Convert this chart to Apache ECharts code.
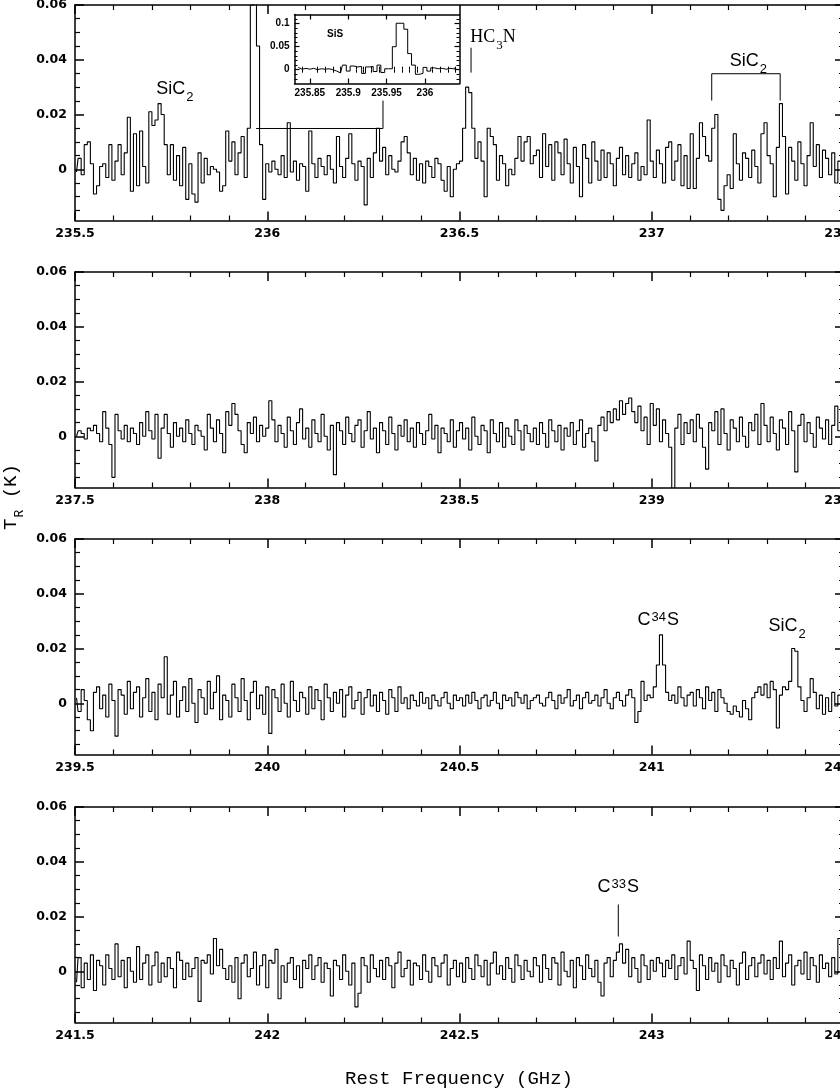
<!DOCTYPE html>
<html><head><meta charset="utf-8">
<script src="https://cdn.jsdelivr.net/npm/echarts@6/dist/echarts.min.js"></script>
<style>html,body{margin:0;padding:0;background:#fff;overflow:hidden}#c{width:840px;height:1091px}</style>
</head><body><div id="c"></div>
<script>
// ---------------- DATA ----------------
const panelStarts = [235.5, 237.5, 239.5, 241.5];   // GHz, left edge of each panel
const panelSpan = 2;                                // GHz per panel
const channelWidth = 0.008;                         // GHz per channel (250 channels per panel)
// antenna temperature T_R per channel, in mK
const panel1_mK = [
 -1,4,-2,9,10,2,-9,-6,1,2,-3,9,-4,3,9,-2,6,19,-8,13,-6,14,1,-5,21,
 16,18,24,20,9,-2,9,-4,5,-6,8,-11,2,-9,-12,6,-5,4,-2,1,0,-1,-8,-6,14,
 3,10,-2,6,12,-3,15,60,100,45,9,-11,2,-1,3,0,-2,5,-3,17,-1,3,-4,2,1,
 -8,14,2,-3,4,1,-2,5,0,-5,12,1,-3,4,13,2,-4,3,1,-13,4,-3,6,15,3,
 8,-2,5,0,-1,3,10,12,6,-2,4,-4,2,-5,3,1,-3,4,2,-4,-8,1,-10,0,2,
 3,15,30,28,15,4,10,3,-10,15,12,9,-4,5,2,-6,0,-2,4,12,3,10,12,2,5,
 7,-3,13,1,9,-4,10,6,-2,11,2,-5,8,1,-10,9,4,-5,10,3,-4,7,-3,6,2,
 -6,4,8,-2,5,-3,2,6,-4,1,-2,18,3,-3,7,2,-5,8,10,-4,3,9,-6,5,-7,
 13,-7,4,17,12,5,3,15,20,-11,-15,-6,-2,-7,13,2,-4,6,4,-3,7,1,-5,13,17,
 5,2,-10,8,24,12,-9,8,3,-4,10,2,-6,5,17,1,9,-3,7,4,-2,6,-5,3,-10
];
const panel2_mK = [
 0,2,1,-1,3,2,4,1,-2,9,3,-3,-15,8,2,-1,4,-2,3,1,-3,5,0,9,2,
 -1,8,-8,3,8,1,-4,5,0,3,-2,6,1,-3,4,2,0,-5,8,3,-2,6,1,-6,9,
 4,12,8,2,-3,-6,5,1,7,-2,4,0,3,13,6,-2,4,1,-4,7,2,-3,5,10,-1,
 3,-4,6,1,-2,8,0,-5,4,-14,5,2,-3,7,1,-2,4,6,-4,2,9,-1,3,-6,5,
 2,-3,7,1,-5,4,0,6,-2,3,-4,5,1,-3,2,8,-1,4,-6,3,1,-2,6,-4,2,
 5,-1,3,-5,7,0,-3,4,2,-6,6,1,-2,5,-4,3,0,-3,6,2,-5,4,1,-2,3,
 -3,5,1,-4,6,2,-2,4,-5,3,0,5,-3,2,6,-4,1,3,-2,-9,4,7,2,9,5,
 10,6,13,8,12,14,9,5,11,2,7,-3,12,4,10,-2,6,1,-4,-22,3,8,-3,5,1,
 6,-2,8,3,-4,-12,5,2,9,-3,10,1,-5,6,3,-2,7,0,-4,5,2,8,-3,12,4,
 -2,7,1,-5,6,3,-3,9,2,-13,4,8,-2,5,1,-4,7,3,-1,6,-3,4,11,2,-2
];
const panel3_mK = [
 2,-3,5,1,-6,-10,4,6,-2,3,-5,7,1,-12,5,3,-4,8,-2,4,6,-5,2,9,-3,
 4,-6,7,2,17,-4,3,8,-5,1,6,-3,9,0,-7,5,2,-4,8,-2,4,10,-6,3,1,
 -5,7,2,-3,9,1,-6,4,8,-2,3,-4,6,-11,5,2,-3,7,0,-5,8,1,-3,4,2,
 -4,6,-2,5,1,-6,7,2,-3,4,0,5,-5,3,6,-2,1,4,-4,2,5,-1,3,-3,4,
 1,-4,5,2,-3,6,0,2,-2,3,1,-1,4,0,2,-2,3,1,-1,2,4,0,-2,3,1,
 2,-1,3,0,4,1,-2,2,3,-1,1,4,0,-2,3,1,2,-1,4,2,0,3,-2,1,2,
 3,0,-1,2,4,1,-2,3,0,2,5,-1,1,3,-2,2,4,0,1,3,-1,2,5,0,-2,
 2,4,1,-1,3,5,2,-7,-3,8,1,3,2,6,14,25,14,4,1,3,0,6,2,-1,3,
 4,-1,5,2,-2,6,1,4,-3,5,2,0,-3,-4,-1,-3,-5,1,-2,-6,2,4,6,3,7,
 2,8,5,-9,3,6,5,8,20,19,6,1,-3,2,9,4,-2,3,-4,2,-3,4,-1,3,0
];
const panel4_mK = [
 -4,5,-6,3,-3,6,-7,4,2,-5,6,1,-3,10,-2,4,-6,5,0,-4,9,-3,3,6,-5,
 2,7,-4,3,-2,5,1,-6,7,4,-3,3,-2,1,5,-11,4,3,6,-1,12,2,8,1,-3,
 2,-4,5,-10,3,6,-2,1,7,-5,2,6,-6,4,3,8,-10,2,-4,3,5,-3,2,-6,4,
 1,6,-3,2,5,-4,3,1,-9,4,2,-3,6,0,-5,3,-13,-8,5,2,-4,6,1,-2,4,
 -3,5,2,-6,3,7,-2,1,4,-5,3,2,-3,6,0,-4,5,2,-2,3,6,-5,1,4,-2,
 3,-4,5,1,-3,6,2,-2,4,-5,3,7,-1,2,-3,5,1,-4,6,2,-3,4,0,-2,5,
 2,-4,6,1,-3,5,3,-5,7,0,-2,4,-6,5,2,-3,6,1,-2,4,-4,-9,3,5,-2,
 4,7,10,3,8,-2,5,1,-4,6,2,-3,4,0,5,3,-2,4,1,6,-3,2,5,-1,11,
 4,1,-7,6,2,-3,5,0,3,-4,6,2,-2,4,1,-5,3,7,-3,2,5,-2,3,6,-1,
 4,-3,5,1,11,-2,3,6,-5,2,4,-1,7,-3,5,2,-4,6,1,3,-2,5,-1,12,4
];
// inset: SiS line, finer channels
const insetStart = 235.8325, insetChannel = 0.005, insetMin = 235.83, insetMax = 236.045;
const inset_mK = [
 5,1,3,1,3,0,2,1,2,0,-3,-7,10,-3,8,6,7,-8,6,7,
 -4,10,-6,2,2,50,101,101,88,35,10,-10,-8,5,-3,4,2,3,1,3,2,5
];
// tick values
const yTickLabels = [0, 0.02, 0.04, 0.06];
const yMinorTicks = [-0.015,-0.01,-0.005,0.005,0.01,0.015,0.025,0.03,0.035,0.045,0.05,0.055];
const insetXTicks = [235.85, 235.9, 235.95, 236];
const insetXMinor = [235.84,235.86,235.87,235.88,235.89,235.91,235.92,235.93,235.94,235.96,235.97,235.98,235.99,236.01,236.02,236.03,236.04];
const insetYTicks = [0, 0.05, 0.1];
const insetYMinor = [-0.02,-0.01,0.01,0.02,0.03,0.04,0.06,0.07,0.08,0.09,0.11];
// line identifications (GHz, mK)
const lineLabels = [
 {panel:0, f:235.76,  mK:28.7, text:'{m|SiC}{sub|2}', font:'sans'},
 {panel:0, f:236.587, mK:47.5, text:'{m|HC}{sub|3}{m|N}', font:'serif'},
 {panel:0, f:237.251, mK:38.7, text:'{m|SiC}{sub|2}', font:'sans'},
 {panel:2, f:241.017, mK:29.8, text:'{m|C}{sup|34}{m|S}', font:'sans'},
 {panel:2, f:241.352, mK:27.6, text:'{m|SiC}{sub|2}', font:'sans'},
 {panel:3, f:242.913, mK:30.2, text:'{m|C}{sup|33}{m|S}', font:'sans'}
];
const markerLines = [
 {panel:0, pts:[[236.530,35.3],[236.530,44.4]]},
 {panel:0, pts:[[237.156,25.1],[237.156,34.9],[237.334,34.9],[237.334,25.1]]},
 {panel:0, pts:[[235.971,14.9],[236.301,14.9],[236.301,25.1]]},
 {panel:3, pts:[[242.913,12.7],[242.913,24.4]]}
];

// ---------------- LAYOUT ----------------
const spectra = [panel1_mK, panel2_mK, panel3_mK, panel4_mK];
const YMIN = -0.0187, YMAX = 0.06;
const GRID_LEFT = 75, GRID_W = 769, GRID_H = 215.5;
const gridTops = [5, 272, 539, 807];
const INK = '#000';
const tickFont = {fontFamily:'DejaVu Sans', fontWeight:'bold', fontSize:12.5, color:INK};
const insetFont = {fontFamily:'Liberation Sans', fontWeight:'bold', fontSize:10, color:INK};
const fmt = v => String(Math.round(v * 1000) / 1000);

const chart = echarts.init(document.getElementById('c'), null, {renderer:'canvas'});
const grid = [], xAxis = [], yAxis = [], series = [];
const mainSeries = [];

gridTops.forEach((top, k) => {
  grid.push({left:GRID_LEFT, top:top, width:GRID_W, height:GRID_H, show:false, outerBoundsMode:'none', containLabel:false});
  const xmin = panelStarts[k], xmax = panelStarts[k] + panelSpan;
  const xi = xAxis.length;
  ['bottom','top'].forEach(pos => xAxis.push({
    gridIndex:k, type:'value', position:pos, min:xmin, max:xmax, interval:0.5,
    axisLine:{show:true, onZero:false, lineStyle:{color:INK, width:1.5}},
    axisTick:{show:true, inside:true, length:9, lineStyle:{color:INK, width:1.5}},
    minorTick:{show:true, splitNumber:5, length:5, lineStyle:{color:INK, width:1.2}},
    axisLabel:Object.assign({show:pos==='bottom', margin:7, formatter:fmt, showMinLabel:true, showMaxLabel:true, hideOverlap:false}, tickFont),
    splitLine:{show:false}, minorSplitLine:{show:false}
  }));
  const yi = yAxis.length;
  ['left','right'].forEach(pos => {
    yAxis.push({gridIndex:k, type:'value', position:pos, min:YMIN, max:YMAX,
      axisLine:{show:true, onZero:false, lineStyle:{color:INK, width:1.5}},
      axisTick:{show:true, inside:true, length:9, customValues:yTickLabels, lineStyle:{color:INK, width:1.5}},
      axisLabel:Object.assign({show:pos==='left', customValues:yTickLabels, margin:8, formatter:fmt}, tickFont),
      splitLine:{show:false}});
    yAxis.push({gridIndex:k, type:'value', position:pos, min:YMIN, max:YMAX,
      axisLine:{show:false},
      axisTick:{show:true, inside:true, length:5, customValues:yMinorTicks, lineStyle:{color:INK, width:1.2}},
      axisLabel:{show:false}, splitLine:{show:false}});
  });
  mainSeries.push(series.length);
  series.push({
    type:'line', name:'panel' + (k + 1), xAxisIndex:xi, yAxisIndex:yi,
    data: spectra[k].map((v, i) => [panelStarts[k] + channelWidth * (i + 0.5), v / 1000]),
    step:'middle', symbol:'none', showSymbol:false, clip:true, silent:true,
    lineStyle:{color:'#000', width:1.1}, z:3
  });
  markerLines.filter(m => m.panel === k).forEach(m => series.push({
    type:'line', xAxisIndex:xi, yAxisIndex:yi, data:m.pts.map(p => [p[0], p[1] / 1000]),
    symbol:'none', showSymbol:false, clip:false, silent:true, lineStyle:{color:INK, width:1}, z:3
  }));
});

// inset
const gi = grid.length;
grid.push({left:294.5, top:14.5, width:165, height:69, show:true, backgroundColor:'#fff', borderWidth:0, z:5, outerBoundsMode:'none', containLabel:false});
const ixi = xAxis.length;
['bottom','top'].forEach(pos => {
  xAxis.push({gridIndex:gi, type:'value', position:pos, min:insetMin, max:insetMax,
    axisLine:{show:true, onZero:false, lineStyle:{color:INK, width:1.5}},
    axisTick:{show:true, inside:true, length:5, customValues:insetXTicks, lineStyle:{color:INK, width:1.2}},
    axisLabel:Object.assign({show:pos==='bottom', customValues:insetXTicks, margin:5, formatter:fmt}, insetFont),
    splitLine:{show:false}, z:5});
  xAxis.push({gridIndex:gi, type:'value', position:pos, min:insetMin, max:insetMax,
    axisLine:{show:false}, axisTick:{show:true, inside:true, length:3, customValues:insetXMinor, lineStyle:{color:INK, width:1}},
    axisLabel:{show:false}, splitLine:{show:false}, z:5});
});
const iyi = yAxis.length;
['left','right'].forEach(pos => {
  yAxis.push({gridIndex:gi, type:'value', position:pos, min:-0.03, max:0.12,
    axisLine:{show:true, onZero:false, lineStyle:{color:INK, width:1.5}},
    axisTick:{show:true, inside:true, length:5, customValues:insetYTicks, lineStyle:{color:INK, width:1.2}},
    axisLabel:Object.assign({show:pos==='left', customValues:insetYTicks, margin:5, formatter:fmt}, insetFont),
    splitLine:{show:false}, z:5});
  yAxis.push({gridIndex:gi, type:'value', position:pos, min:-0.03, max:0.12,
    axisLine:{show:false}, axisTick:{show:true, inside:true, length:3, customValues:insetYMinor, lineStyle:{color:INK, width:1}},
    axisLabel:{show:false}, splitLine:{show:false}, z:5});
});
const insetSeries = series.length;
series.push({type:'line', name:'SiS inset', xAxisIndex:ixi, yAxisIndex:iyi,
  data: inset_mK.map((v, j) => [insetStart + insetChannel * (j + 0.5), v / 1000]),
  step:'middle', symbol:'none', showSymbol:false, clip:true, silent:true,
  lineStyle:{color:'#000', width:1}, z:6});

chart.setOption({animation:false, backgroundColor:'#fff', grid, xAxis, yAxis, series});

// ---------------- TEXT ----------------
function richSet(family, size, subSize) {
  return {
    m:{fontFamily:family, fontSize:size, lineHeight:size + 4, verticalAlign:'top', fill:INK},
    sub:{fontFamily:family, fontSize:subSize, lineHeight:subSize, padding:[Math.round(size*0.62),0,0,1], verticalAlign:'top', fill:INK},
    sup:{fontFamily:family, fontSize:subSize, lineHeight:subSize, padding:[0,1,0,1], verticalAlign:'top', fill:INK}
  };
}
const sansRich = richSet('Liberation Sans', 18, 13);
const serifRich = richSet('Liberation Serif', 18, 13);
const monoRich = richSet('Liberation Mono', 19, 13);

const graphic = lineLabels.map(l => {
  const p = chart.convertToPixel({seriesIndex: mainSeries[l.panel]}, [l.f, l.mK / 1000]);
  return {type:'text', x:p[0], y:p[1], z:20, silent:true,
    style:{text:l.text, rich:l.font === 'serif' ? serifRich : sansRich, align:'center', verticalAlign:'middle'}};
});
const sisPos = chart.convertToPixel({seriesIndex: insetSeries}, [235.883, 0.077]);
graphic.push({type:'text', x:sisPos[0], y:sisPos[1], z:20, silent:true,
  style:{text:'SiS', fontFamily:'Liberation Sans', fontWeight:'bold', fontSize:10, fill:INK, align:'center', verticalAlign:'middle'}});
graphic.push({type:'text', x:459, y:1079, z:20, silent:true,
  style:{text:'Rest Frequency (GHz)', fontFamily:'Liberation Mono', fontSize:19, fill:INK, align:'center', verticalAlign:'middle'}});
graphic.push({type:'text', x:13, y:497, rotation:Math.PI / 2, z:20, silent:true,
  style:{text:'{m|T}{sub|R}{m| (K)}', rich:monoRich, align:'center', verticalAlign:'middle'}});
chart.setOption({graphic});
</script></body></html>
